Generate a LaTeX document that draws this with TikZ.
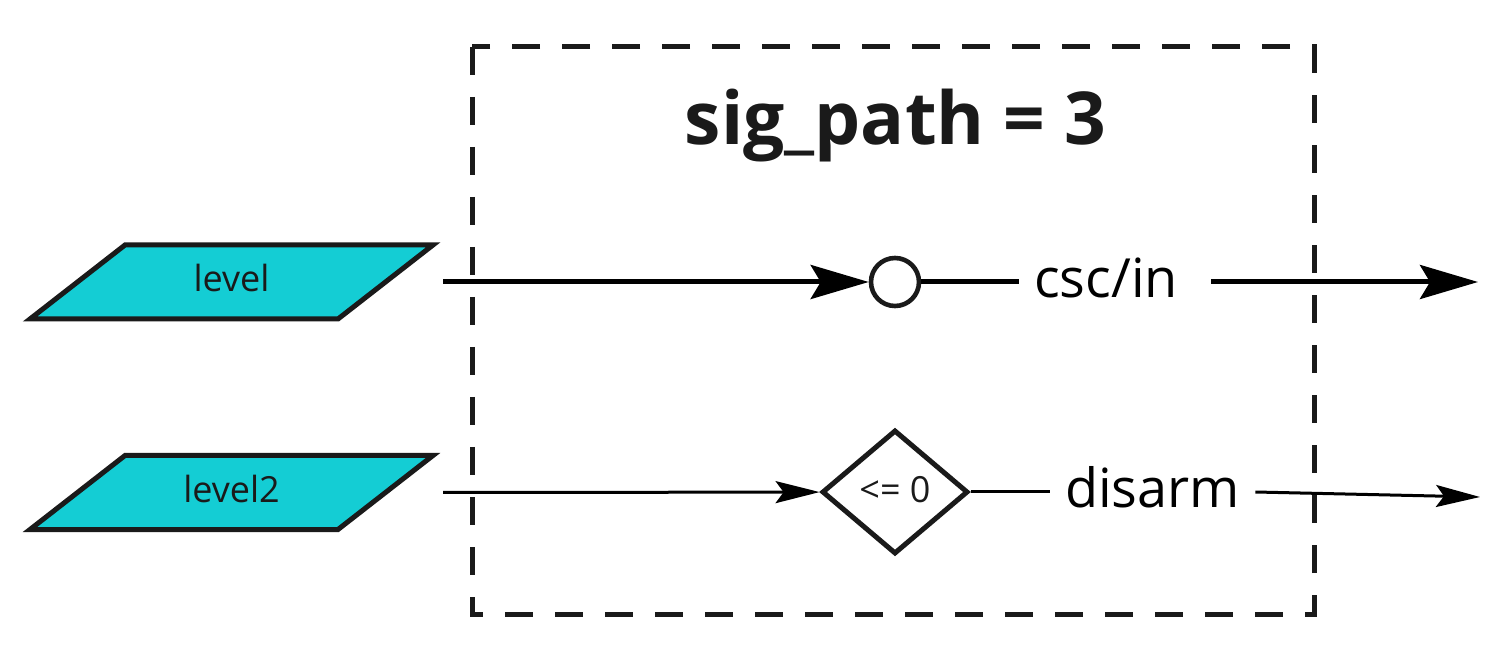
\documentclass[tikz,border=0pt]{standalone}
\usepackage{fontspec}
\setmainfont{Open Sans}
\usetikzlibrary{arrows.meta,positioning,shapes.geometric}
\definecolor{inkdark}{HTML}{1A1A1A}
\definecolor{sigcyan}{HTML}{14CDD4}
\tikzset{
  inpara/.style={draw=inkdark, fill=sigcyan, line width=2.5pt, line join=miter},
  intxt/.style={font=\fontsize{18}{20}\selectfont, text=inkdark, anchor=base},
  pathbox/.style={draw=inkdark, line width=2.5pt, dash pattern=on 14pt off 11pt},
  gate/.style={circle, draw=inkdark, line width=2.3pt, minimum size=24pt, inner sep=0pt},
  test/.style={diamond, draw=inkdark, line width=2.5pt, minimum width=73pt,
               minimum height=62pt, inner sep=0pt, font=\fontsize{18}{20}\selectfont, text=inkdark},
  sig/.style={font=\fontsize{27}{30}\selectfont, text=black, inner xsep=7.5pt, anchor=base},
  ttl/.style={font=\fontsize{36.5}{40}\selectfont\bfseries, text=inkdark, anchor=base},
  wire/.style={line width=2.5pt, black},
  thinwire/.style={line width=1.5pt, black},
  thickflow/.style={wire, -{Stealth[length=29pt, width=17pt, inset=5pt]}},
  thinflow/.style={thinwire, -{Stealth[length=22pt, width=11pt, inset=4pt]}},
}
\begin{document}
\begin{tikzpicture}[x=0.5pt, y=-0.5pt]
  \useasboundingbox (0,0) rectangle (1510,662);
  % block frame
  \draw[pathbox] (472,47) rectangle (1314,614);
  \node[ttl] (title) at (895.5,145) {sig\_path = 3};
  % inputs
  \foreach \n/\y in {level/282, level2/492.5}
    { \draw[inpara] (30,\y+37) -- (338,\y+37) -- (433,\y-37) -- (125,\y-37) -- cycle;
      \node[intxt] (\n) at (231.5,\y+10) {\n};
      \coordinate (\n-src) at (443,\y); }
  % upper signal
  \node[gate] (gate) at (895,282) {};
  \node[sig] (csc) at (1106,298) {csc/in};
  \coordinate (csc-out) at (1478,282);
  \draw[thickflow] (level-src) -- (gate);
  \draw[wire] (gate) -- (gate -| csc.west);
  \draw[thickflow, shorten <=9pt] (csc.east |- gate) -- (csc-out);
  % lower signal
  \node[test] (test) at (895,492) {\raisebox{3pt}{<= 0}};
  \node[sig] (disarm) at (1152.5,508) {disarm};
  \coordinate (disarm-out) at (1480,497);
  \draw[thinflow] (level2-src) -- (test);
  \draw[thinwire] (test) -- (test -| disarm.west);
  \draw[thinflow] (disarm.east |- test) -- (disarm-out);
\end{tikzpicture}
\end{document}
